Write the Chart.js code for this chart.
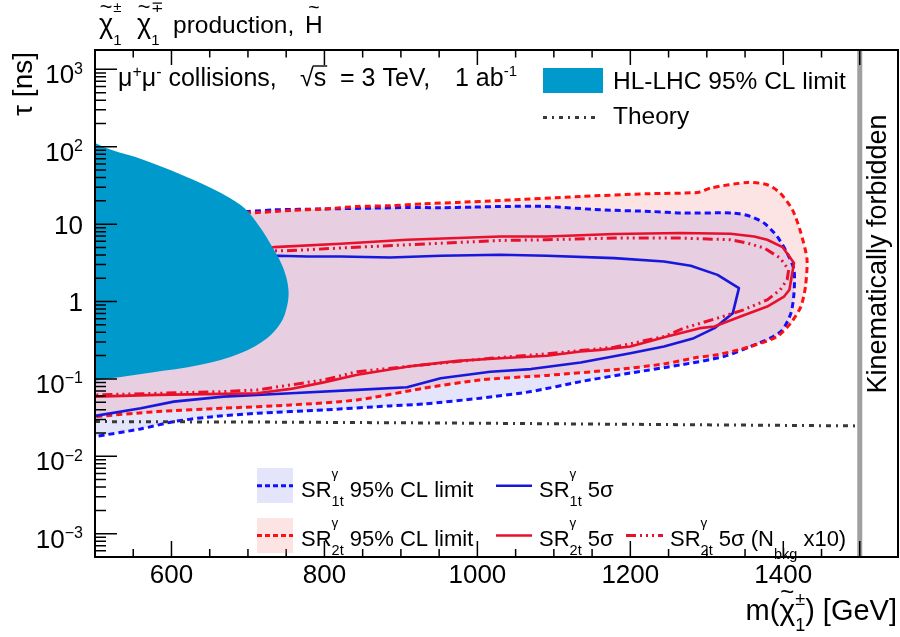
<!DOCTYPE html>
<html>
<head>
<meta charset="utf-8">
<title>Chargino lifetime reach at a muon collider</title>
<script src="https://cdn.jsdelivr.net/npm/chart.js@4.4.1/dist/chart.umd.min.js"></script>
<style>
html, body { margin: 0; padding: 0; background: #ffffff; }
canvas { display: block; }
</style>
</head>
<body>
<canvas id="chart" width="900" height="637"></canvas>
<script>
// ---------------- axes ----------------
const massRange = [500, 1550];          // m(chargino) [GeV]
const tauRange = [5e-4, 1778];          // tau [ns]
const xTickLabels = [600, 800, 1000, 1200, 1400];
const xMinorStep = 50;
const yTickDecades = [-3, -2, -1, 0, 1, 2, 3];
const kinematicLimit = 1500;

// ---------------- HL-LHC 95% CL excluded region ----------------
const hllhcMass = [500, 520, 563, 638, 690, 712, 734, 747, 753, 751, 743, 725, 690, 638, 572, 500];
const hllhcTau  = [112, 92, 68, 34, 17.8, 10.3, 4.66, 2.57, 1.42, 0.86, 0.53, 0.336, 0.215, 0.152, 0.12, 0.095];

// ---------------- SR1t 95% CL limit contour ----------------
const sr1tLimitMass = [500, 701, 734, 799, 865, 908, 952, 995, 1030, 1091, 1161, 1226, 1266, 1335, 1357, 1375, 1392, 1405, 1414, 1414,
                       1410, 1399, 1383, 1357, 1322, 1266, 1200, 1135, 1070, 1004, 930, 886, 799, 712, 647, 603, 560, 500];
const sr1tLimitTau  = [14.0, 14.6, 15.3, 15.7, 16.1, 16.4, 16.3, 16.6, 16.9, 16.9, 15.3, 14.6, 13.9, 13.9, 12.6, 10.3, 6.93, 4.23, 2.57, 1.28,
                       0.708, 0.43, 0.336, 0.262, 0.194, 0.152, 0.119, 0.0923, 0.0686, 0.0564, 0.0475, 0.0448, 0.0397, 0.036, 0.032, 0.0281, 0.0226, 0.018];

// ---------------- SR2t 95% CL limit contour ----------------
const sr2tLimitMass = [500, 700, 756, 799, 843, 886, 930, 974, 1030, 1135, 1222, 1288, 1305, 1353, 1379, 1396, 1412, 1423, 1431, 1429,
                       1423, 1410, 1392, 1357, 1314, 1288, 1244, 1178, 1091, 1004, 930, 843, 756, 668, 581, 500];
const sr2tLimitTau  = [15.0, 14.0, 15.0, 15.7, 16.9, 17.3, 18.3, 19.1, 20.2, 22.8, 24.7, 25.7, 29.3, 34.6, 32.3, 25.2, 15.3, 7.7, 3.5, 1.56,
                       0.86, 0.53, 0.353, 0.262, 0.205, 0.19, 0.156, 0.131, 0.111, 0.097, 0.0759, 0.0535, 0.0461, 0.0418, 0.0378, 0.0326];

// ---------------- SR1t 5 sigma contour ----------------
const sr1t5sMass = [500, 740, 778, 821, 886, 952, 1030, 1091, 1179, 1244, 1279, 1314, 1342, 1334, 1310, 1283, 1244, 1200, 1135, 1070,
                    1017, 952, 908, 843, 756, 668, 603, 560, 500];
const sr1t5sTau  = [3.6, 3.9, 3.82, 3.82, 3.71, 3.9, 4.02, 3.9, 3.64, 3.29, 2.9, 2.21, 1.49, 0.708, 0.453, 0.336, 0.262, 0.215, 0.163, 0.134,
                    0.124, 0.102, 0.078, 0.0721, 0.0654, 0.0591, 0.0509, 0.0418, 0.0333];

// ---------------- SR2t 5 sigma contour ----------------
const sr2t5sMass = [500, 734, 821, 908, 1030, 1091, 1179, 1266, 1331, 1362, 1379, 1399, 1414, 1408, 1401, 1379, 1344, 1310, 1291, 1248,
                    1200, 1161, 1135, 1091, 1030, 974, 908, 843, 799, 756, 712, 668, 581, 500];
const sr2t5sTau  = [5.0, 5.05, 5.57, 6.28, 6.93, 6.93, 7.44, 7.67, 7.5, 6.93, 6.28, 5.05, 3.14, 1.42, 1.16, 0.861, 0.64, 0.475, 0.453, 0.353,
                    0.262, 0.237, 0.226, 0.199, 0.185, 0.171, 0.144, 0.113, 0.0902, 0.0743, 0.0654, 0.064, 0.0622, 0.0591];

// ---------------- SR2t 5 sigma contour, N_bkg x10 ----------------
const sr2t5sBkgMass = [500, 751, 821, 908, 1030, 1091, 1179, 1266, 1331, 1353, 1375, 1396, 1407, 1405, 1396, 1379, 1348, 1314, 1270, 1244,
                       1179, 1091, 1017, 930, 843, 799, 712, 668, 500];
const sr2t5sBkgTau  = [4.4, 4.53, 4.91, 5.41, 6.15, 6.28, 6.61, 6.61, 6.28, 5.69, 4.91, 3.64, 2.57, 1.91, 1.42, 1.05, 0.78, 0.61, 0.453, 0.353,
                       0.257, 0.211, 0.185, 0.152, 0.124, 0.097, 0.0721, 0.0686, 0.0621];

// ---------------- theory lifetime ----------------
const theoryMass = [500, 756, 1017, 1250, 1500];
const theoryTau  = [0.0281, 0.0276, 0.0267, 0.0257, 0.0247];

// ---------------- styles ----------------
const FONT = '"Liberation Sans", Arial, Helvetica, sans-serif';
const fnt = s => s + 'px ' + FONT;
const C_TEAL = '#0099cc';
const C_BLUE_D = '#1010ff', C_BLUE_S = '#1818dc';
const C_RED_D = '#ff1010', C_RED_S = '#e8102c';
const C_FILL_BLUE = '#e4e4fa', C_FILL_RED = 'rgba(245,120,120,0.2)';
const C_THEORY = '#383838';
const DASH_LIMIT = [6, 4];
const DASH_BKG = [10, 4, 2, 4, 2, 4, 2, 4];
const DASH_THEORY = [5, 5, 2, 5];

const pts = (xs, ys) => xs.map((x, i) => ({ x: x, y: ys[i] }));

function baseLine(extra) {
  return Object.assign({ showLine: true, pointRadius: 0, pointHitRadius: 0, fill: false,
    borderJoinStyle: 'round', backgroundColor: 'transparent' }, extra);
}

const datasets = [
  baseLine({ label: 'SR1t fill', data: pts(sr1tLimitMass, sr1tLimitTau), fill: 'shape', backgroundColor: C_FILL_BLUE,
             borderColor: 'rgba(0,0,0,0)', borderWidth: 1, tension: 0.25, order: 10 }),
  baseLine({ label: 'SR2t fill', data: pts(sr2tLimitMass, sr2tLimitTau), fill: 'shape', backgroundColor: C_FILL_RED,
             borderColor: 'rgba(0,0,0,0)', borderWidth: 1, tension: 0.25, order: 9 }),
  baseLine({ label: 'SR1t 95% CL limit', data: pts(sr1tLimitMass, sr1tLimitTau), borderColor: C_BLUE_D, borderWidth: 3,
             borderDash: DASH_LIMIT, tension: 0.25, order: 8 }),
  baseLine({ label: 'SR2t 95% CL limit', data: pts(sr2tLimitMass, sr2tLimitTau), borderColor: C_RED_D, borderWidth: 3,
             borderDash: DASH_LIMIT, tension: 0.25, order: 7 }),
  baseLine({ label: 'SR1t 5 sigma', data: pts(sr1t5sMass, sr1t5sTau), borderColor: C_BLUE_S, borderWidth: 2.6, tension: 0, order: 6 }),
  baseLine({ label: 'SR2t 5 sigma', data: pts(sr2t5sMass, sr2t5sTau), borderColor: C_RED_S, borderWidth: 2.6, tension: 0, order: 5 }),
  baseLine({ label: 'SR2t 5 sigma (Nbkg x10)', data: pts(sr2t5sBkgMass, sr2t5sBkgTau), borderColor: C_RED_S, borderWidth: 3,
             borderDash: DASH_BKG, tension: 0, order: 4 }),
  baseLine({ label: 'Theory', data: pts(theoryMass, theoryTau), borderColor: C_THEORY, borderWidth: 3,
             borderDash: DASH_THEORY, tension: 0, order: 3 }),
  baseLine({ label: 'HL-LHC 95% CL limit', data: pts(hllhcMass, hllhcTau), fill: 'shape', backgroundColor: C_TEAL,
             borderColor: 'rgba(0,0,0,0)', borderWidth: 1, tension: 0.35, order: 2 }),
  baseLine({ label: 'Kinematically forbidden', data: pts([kinematicLimit, kinematicLimit], tauRange), borderColor: '#a0a0a0',
             borderWidth: 5, tension: 0, order: 1 })
];

// ---------------- rich text helper (sub/superscripts) ----------------
function layoutRich(ctx, parts, draw, x0, y) {
  let cx = x0;
  for (const p of parts) {
    if (p.sp) { cx += p.sp; continue; }
    if (p.stack) {
      let w = 0;
      for (const q of p.stack) {
        ctx.font = fnt(q.s);
        const qw = ctx.measureText(q.t).width;
        if (draw) ctx.fillText(q.t, cx, y + (q.dy || 0));
        w = Math.max(w, qw);
      }
      cx += w;
      continue;
    }
    ctx.font = fnt(p.s);
    const w = ctx.measureText(p.t).width;
    if (draw) {
      ctx.fillText(p.t, cx, y + (p.dy || 0));
      if (p.tilde !== undefined) {
        ctx.font = fnt(p.s * 0.8);
        const tw = ctx.measureText('~').width;
        ctx.fillText('~', cx + w / 2 - tw / 2, y + p.tilde);
      }
      if (p.over !== undefined) {
        ctx.save();
        ctx.lineWidth = 1.4; ctx.strokeStyle = '#000'; ctx.setLineDash([]);
        ctx.beginPath(); ctx.moveTo(cx - 1, y - p.over); ctx.lineTo(cx + w + 1, y - p.over); ctx.stroke();
        ctx.restore();
      }
    }
    cx += w;
  }
  return cx - x0;
}
function rich(ctx, x, y, parts, align) {
  const w = layoutRich(ctx, parts, false, 0, 0);
  const sx = align === 'right' ? x - w : (align === 'center' ? x - w / 2 : x);
  layoutRich(ctx, parts, true, sx, y);
}
function srLabel(sub, size) {
  return [{ t: 'SR', s: size }, { stack: [{ t: 'γ', s: 13.5, dy: -19 }, { t: sub, s: 14.5, dy: 9 }] }];
}

// ---------------- decorations plugin: frame, ticks, labels, legends ----------------
const decorations = {
  id: 'decorations',
  afterDatasetsDraw(chart) {
    const ctx = chart.ctx, a = chart.chartArea, xs = chart.scales.x, ys = chart.scales.y;
    ctx.save();
    ctx.setLineDash([]);
    ctx.strokeStyle = '#000';
    ctx.fillStyle = '#000';
    ctx.textAlign = 'left';
    ctx.textBaseline = 'alphabetic';

    // frame
    ctx.lineWidth = 2;
    ctx.strokeRect(a.left, a.top, a.right - a.left, a.bottom - a.top);

    // tick marks (pointing inwards)
    ctx.lineWidth = 1.5;
    ctx.beginPath();
    for (let m = massRange[0] + xMinorStep; m < massRange[1]; m += xMinorStep) {
      const px = xs.getPixelForValue(m);
      const major = (m % 200 === 0) || m === kinematicLimit;
      ctx.moveTo(px, a.bottom); ctx.lineTo(px, a.bottom - (major ? 16 : 8));
      ctx.moveTo(px, a.top); ctx.lineTo(px, a.top + (major ? 15 : 7.5));
    }
    for (let k = -4; k <= 3; k++) {
      for (let d = 1; d <= 9; d++) {
        const v = d * Math.pow(10, k);
        if (v <= tauRange[0] || v >= tauRange[1]) continue;
        const py = ys.getPixelForValue(v);
        ctx.moveTo(a.left, py); ctx.lineTo(a.left + (d === 1 ? 22 : 11), py);
      }
    }
    ctx.stroke();

    // y tick labels (powers of ten)
    const yr = 83;
    for (const k of yTickDecades) {
      const py = ys.getPixelForValue(Math.pow(10, k));
      if (k === 0 || k === 1) {
        const t = k === 0 ? '1' : '10';
        ctx.font = fnt(26);
        ctx.fillText(t, yr - ctx.measureText(t).width, py + 9.5);
      } else {
        const e = (k < 0 ? '\u2212' : '') + Math.abs(k);
        ctx.font = fnt(16);
        const we = ctx.measureText(e).width;
        ctx.font = fnt(26);
        const wb = ctx.measureText('10').width;
        ctx.fillText('10', yr - we - wb, py + 14);
        ctx.font = fnt(16);
        ctx.fillText(e, yr - we, py + 4.5);
      }
    }

    // axis titles
    rich(ctx, 897, 620, [
      { t: 'm(', s: 29 }, { t: 'χ', s: 30, tilde: -20 },
      { stack: [{ t: '±', s: 18, dy: -15 }, { t: '1', s: 18, dy: 11 }] },
      { t: ') [GeV]', s: 29 }
    ], 'right');

    ctx.save();
    ctx.translate(32, 52);
    ctx.rotate(-Math.PI / 2);
    ctx.font = fnt(28);
    ctx.textAlign = 'right';
    ctx.fillText('τ [ns]', 0, 0);
    ctx.restore();

    // title
    const chi1 = [{ t: 'χ', s: 27, tilde: -19 }, { stack: [{ t: '±', s: 15, dy: -21 }, { t: '1', s: 15, dy: 12 }] }];
    const chi2 = [{ t: 'χ', s: 27, tilde: -19 }, { stack: [{ t: '∓', s: 15, dy: -21 }, { t: '1', s: 15, dy: 12 }] }];
    rich(ctx, 99, 33, chi1);
    rich(ctx, 137, 33, chi2);
    rich(ctx, 173, 33, [{ t: 'production,', s: 24.5 }]);
    rich(ctx, 305, 33, [{ t: 'H', s: 24.5, tilde: -19 }]);

    // collision info
    rich(ctx, 118, 86, [
      { t: 'μ', s: 25 }, { t: '+', s: 16, dy: -9 }, { t: 'μ', s: 25 }, { t: '-', s: 16, dy: -9 },
      { t: ' collisions,', s: 25 }
    ]);
    rich(ctx, 300, 86, [{ t: '√', s: 25 }, { t: 's', s: 25, over: 20 }]);
    rich(ctx, 340, 86, [{ t: '= 3 TeV,', s: 25 }]);
    rich(ctx, 455, 86, [{ t: '1 ab', s: 25 }, { t: '-1', s: 15, dy: -10 }]);

    // kinematically forbidden label
    ctx.save();
    ctx.translate(886, 254);
    ctx.rotate(-Math.PI / 2);
    ctx.font = fnt(27);
    ctx.textAlign = 'center';
    ctx.fillText('Kinematically forbidden', 0, 0);
    ctx.restore();

    // upper legend
    ctx.fillStyle = C_TEAL;
    ctx.fillRect(543, 68, 60, 25);
    ctx.fillStyle = '#000';
    ctx.font = fnt(24.5);
    ctx.fillText('HL-LHC 95% CL limit', 613, 88.5);
    ctx.fillText('Theory', 613, 124);
    ctx.strokeStyle = C_THEORY; ctx.lineWidth = 3; ctx.setLineDash([4, 5, 2, 5]);
    ctx.beginPath(); ctx.moveTo(543, 117.5); ctx.lineTo(597, 117.5); ctx.stroke();

    // lower legend
    const lg = 22;
    const r1 = 496.5, r2 = 546;
    ctx.fillStyle = C_FILL_BLUE; ctx.fillRect(257, 468, 36, 35);
    ctx.fillStyle = C_FILL_RED; ctx.fillRect(257, 518, 36, 35);
    ctx.lineWidth = 3;
    ctx.setLineDash([5, 3]);
    ctx.strokeStyle = C_BLUE_D; ctx.beginPath(); ctx.moveTo(257, 485.7); ctx.lineTo(293, 485.7); ctx.stroke();
    ctx.strokeStyle = C_RED_D; ctx.beginPath(); ctx.moveTo(257, 535.5); ctx.lineTo(293, 535.5); ctx.stroke();
    ctx.setLineDash([]); ctx.lineWidth = 2.6;
    ctx.strokeStyle = C_BLUE_S; ctx.beginPath(); ctx.moveTo(496, 485.7); ctx.lineTo(532, 485.7); ctx.stroke();
    ctx.strokeStyle = C_RED_S; ctx.beginPath(); ctx.moveTo(496, 535.5); ctx.lineTo(532, 535.5); ctx.stroke();
    ctx.lineWidth = 3; ctx.setLineDash(DASH_BKG);
    ctx.beginPath(); ctx.moveTo(626, 535.5); ctx.lineTo(663, 535.5); ctx.stroke();
    ctx.setLineDash([]);

    ctx.fillStyle = '#000';
    rich(ctx, 301, r1, srLabel('1t', lg).concat([{ t: ' 95% CL limit', s: lg }]));
    rich(ctx, 539, r1, srLabel('1t', lg).concat([{ t: ' 5σ', s: lg }]));
    rich(ctx, 301, r2, srLabel('2t', lg).concat([{ t: ' 95% CL limit', s: lg }]));
    rich(ctx, 539, r2, srLabel('2t', lg).concat([{ t: ' 5σ', s: lg }]));
    rich(ctx, 670, r2, srLabel('2t', lg).concat([
      { t: ' 5σ (N', s: lg }, { t: 'bkg', s: 14.5, dy: 13 }, { t: ' x10)', s: lg }
    ]));

    ctx.restore();
  }
};

// ---------------- chart ----------------
new Chart(document.getElementById('chart').getContext('2d'), {
  type: 'line',
  data: { datasets: datasets },
  options: {
    responsive: false,
    animation: false,
    devicePixelRatio: 1,
    layout: { padding: { top: 50, right: 2, left: 0, bottom: 0 } },
    plugins: { legend: { display: false }, tooltip: { enabled: false }, title: { display: false } },
    elements: { point: { radius: 0 } },
    scales: {
      x: {
        type: 'linear',
        min: massRange[0], max: massRange[1],
        grid: { display: false, drawTicks: false },
        border: { display: false },
        afterBuildTicks: s => { s.ticks = xTickLabels.map(v => ({ value: v })); },
        afterFit: s => { s.height = 80; },
        ticks: {
          autoSkip: false, maxRotation: 0, padding: 3, color: '#000',
          font: { family: FONT, size: 26 },
          callback: v => String(v)
        }
      },
      y: {
        type: 'logarithmic',
        min: tauRange[0], max: tauRange[1],
        grid: { display: false, drawTicks: false },
        border: { display: false },
        ticks: { display: false },
        afterFit: s => { s.width = 95; }
      }
    }
  },
  plugins: [decorations]
});
</script>
</body>
</html>
